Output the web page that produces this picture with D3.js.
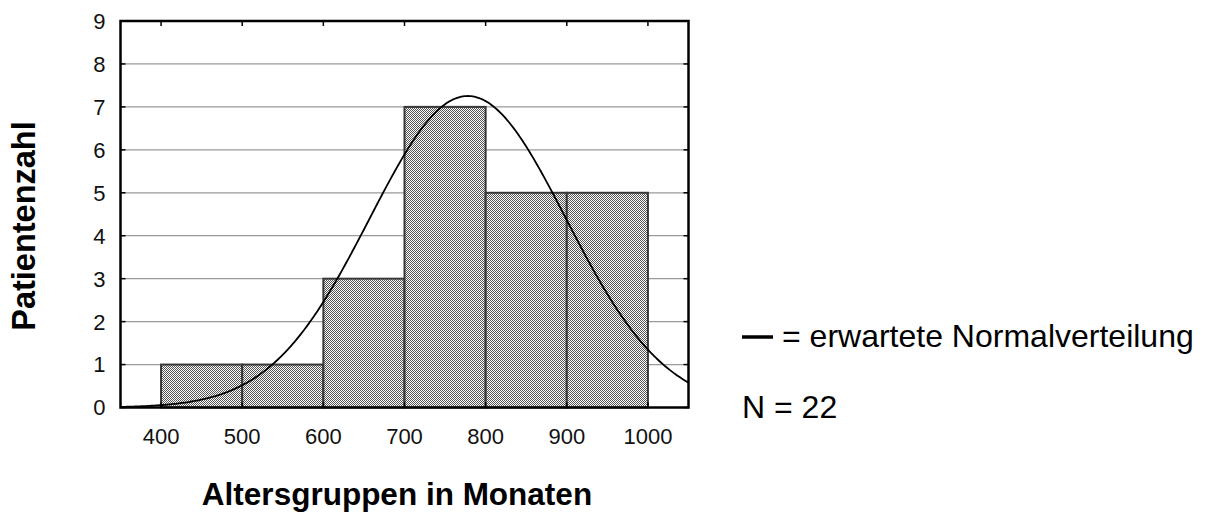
<!DOCTYPE html>
<html>
<head>
<meta charset="utf-8">
<script src="https://cdn.jsdelivr.net/npm/d3@7"></script>
<style>
  html, body { margin: 0; padding: 0; background: #fff; }
  svg { display: block; font-family: "Liberation Sans", Arial, sans-serif; }
</style>
</head>
<body>
<svg id="chart" width="1205" height="513"></svg>
<script>
// Age groups (months): lower bin edges and patient counts
const binStarts = [400, 500, 600, 700, 800, 900];
const binWidth = 100;
const counts = [1, 1, 3, 7, 5, 5];

// Fitted normal distribution parameters
const sampleN = 22;
const fitMean = 778;
const fitSd = 121;

// Axis ticks
const xTicks = [400, 500, 600, 700, 800, 900, 1000];
const yTicks = [0, 1, 2, 3, 4, 5, 6, 7, 8, 9];
const xDomain = [350, 1050];
const yDomain = [0, 9];

const xTitle = "Altersgruppen in Monaten";
const yTitle = "Patientenzahl";
const legendText = "= erwartete Normalverteilung";
const nText = "N = 22";

const svg = d3.select("#chart");
const plot = { left: 120.5, right: 688.5, top: 21, bottom: 407.5 };

const x = d3.scaleLinear().domain(xDomain).range([plot.left, plot.right]);
const y = d3.scaleLinear().domain(yDomain).range([plot.bottom, plot.top]);

// Fine checkerboard fill for the bars
const defs = svg.append("defs");
const pat = defs.append("pattern")
  .attr("id", "checker")
  .attr("patternUnits", "userSpaceOnUse")
  .attr("width", 2).attr("height", 2);
pat.append("rect").attr("width", 2).attr("height", 2).attr("fill", "#ffffff");
pat.append("rect").attr("x", 0).attr("y", 0).attr("width", 1).attr("height", 1).attr("fill", "#555555");
pat.append("rect").attr("x", 1).attr("y", 1).attr("width", 1).attr("height", 1).attr("fill", "#555555");

defs.append("clipPath").attr("id", "plotClip")
  .append("rect")
  .attr("x", plot.left).attr("y", plot.top)
  .attr("width", plot.right - plot.left).attr("height", plot.bottom - plot.top);

// Horizontal grid lines
svg.append("g")
  .selectAll("line")
  .data(yTicks.filter(v => v > yDomain[0] && v < yDomain[1]))
  .join("line")
  .attr("x1", plot.left).attr("x2", plot.right)
  .attr("y1", d => y(d)).attr("y2", d => y(d))
  .attr("stroke", "#9a9a9a")
  .attr("stroke-width", 1.2);

// Histogram bars
svg.append("g")
  .selectAll("rect")
  .data(binStarts.map((s, i) => ({ start: s, count: counts[i] })))
  .join("rect")
  .attr("x", d => x(d.start))
  .attr("y", d => y(d.count))
  .attr("width", d => x(d.start + binWidth) - x(d.start))
  .attr("height", d => y(0) - y(d.count))
  .attr("fill", "url(#checker)")
  .attr("stroke", "#383838")
  .attr("stroke-width", 2);

// Expected normal curve scaled to counts per bin
const curveXs = d3.range(xDomain[0], xDomain[1] + 1, 2);
const expected = v => sampleN * binWidth / (fitSd * Math.sqrt(2 * Math.PI)) *
  Math.exp(-((v - fitMean) ** 2) / (2 * fitSd * fitSd));
svg.append("path")
  .datum(curveXs)
  .attr("clip-path", "url(#plotClip)")
  .attr("fill", "none")
  .attr("stroke", "#000")
  .attr("stroke-width", 1.8)
  .attr("d", d3.line().x(d => x(d)).y(d => y(expected(d))));

// Inner tick marks on all four sides
const tickLen = 5;
const ticks = svg.append("g").attr("stroke", "#000").attr("stroke-width", 1.5);
ticks.selectAll(".yl").data(yTicks).join("line")
  .attr("x1", plot.left).attr("x2", plot.left + tickLen)
  .attr("y1", d => y(d)).attr("y2", d => y(d));
ticks.selectAll(".yr").data(yTicks).join("line")
  .attr("x1", plot.right).attr("x2", plot.right - tickLen)
  .attr("y1", d => y(d)).attr("y2", d => y(d));
ticks.selectAll(".xt").data(xTicks).join("line")
  .attr("x1", d => x(d)).attr("x2", d => x(d))
  .attr("y1", plot.top).attr("y2", plot.top + tickLen);
ticks.selectAll(".xb").data(xTicks).join("line")
  .attr("x1", d => x(d)).attr("x2", d => x(d))
  .attr("y1", plot.bottom).attr("y2", plot.bottom - tickLen);

// Plot frame
svg.append("rect")
  .attr("x", plot.left).attr("y", plot.top)
  .attr("width", plot.right - plot.left).attr("height", plot.bottom - plot.top)
  .attr("fill", "none")
  .attr("stroke", "#000")
  .attr("stroke-width", 2.5);

// Tick labels
svg.append("g")
  .selectAll("text")
  .data(yTicks)
  .join("text")
  .attr("x", plot.left - 15)
  .attr("y", d => y(d))
  .attr("dy", "0.36em")
  .attr("text-anchor", "end")
  .attr("font-size", 22)
  .attr("fill", "#111")
  .text(d => d);

svg.append("g")
  .selectAll("text")
  .data(xTicks)
  .join("text")
  .attr("x", d => x(d))
  .attr("y", 443.5)
  .attr("text-anchor", "middle")
  .attr("font-size", 22)
  .attr("fill", "#111")
  .text(d => d);

// Axis titles
svg.append("text")
  .attr("x", 397)
  .attr("y", 505)
  .attr("text-anchor", "middle")
  .attr("font-size", 31.5)
  .attr("font-weight", "bold")
  .attr("fill", "#000")
  .text(xTitle);

svg.append("text")
  .attr("transform", "translate(35,226) rotate(-90)")
  .attr("text-anchor", "middle")
  .attr("font-size", 32.5)
  .attr("font-weight", "bold")
  .attr("fill", "#000")
  .text(yTitle);

// Legend
svg.append("line")
  .attr("x1", 742).attr("x2", 773)
  .attr("y1", 337).attr("y2", 337)
  .attr("stroke", "#000")
  .attr("stroke-width", 3.5);
svg.append("text")
  .attr("x", 782).attr("y", 347)
  .attr("font-size", 32)
  .attr("fill", "#000")
  .text(legendText);
svg.append("text")
  .attr("x", 742).attr("y", 418)
  .attr("font-size", 32)
  .attr("fill", "#000")
  .text(nText);
</script>
</body>
</html>
